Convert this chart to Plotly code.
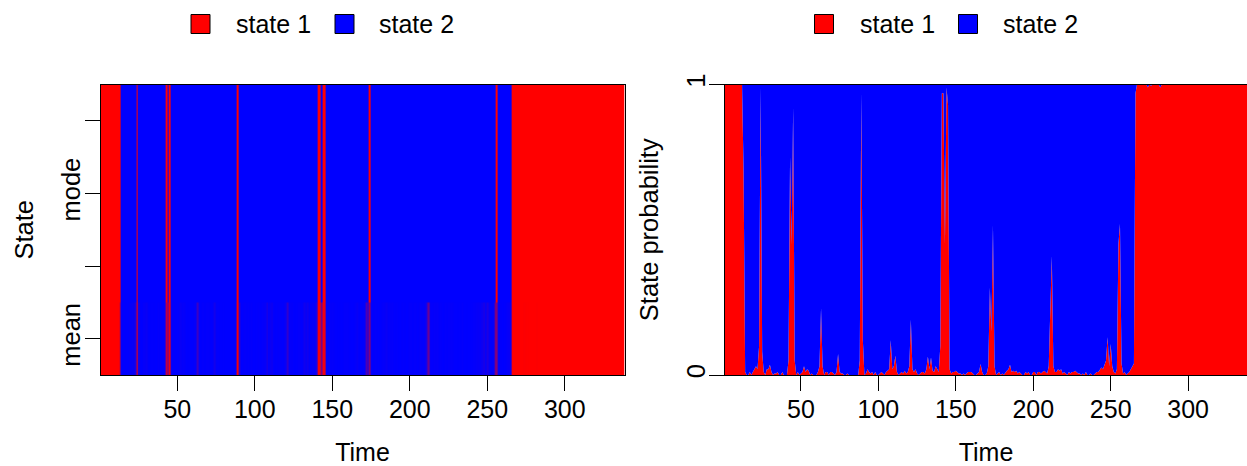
import plotly.graph_objects as go

# ---------------- data ----------------
time = list(range(1, 339))

state1_prob = [
    1, 1, 1, 1, 1, 1, 1, 1, 1, 1,
    1, 1, 0.7, 0.01, 0, 0, 0.01, 0, 0.01, 0.02,
    0.03, 0.02, 0.1, 0.99, 0.08, 0.01, 0, 0.02, 0.02, 0.035,
    0.01, 0, 0.005, 0.005, 0.01, 0, 0, 0.01, 0, 0,
    0, 0.05, 0.75, 0.45, 0.92, 0.05, 0, 0.01, 0, 0.005,
    0.01, 0.03, 0.01, 0.02, 0.015, 0, 0.005, 0, 0, 0,
    0.01, 0.03, 0.23, 0.03, 0, 0.01, 0.01, 0, 0.01, 0.01,
    0.005, 0, 0.01, 0.072, 0.01, 0.005, 0.005, 0, 0, 0.005,
    0, 0, 0, 0, 0, 0, 0, 0.05, 0.97, 0.12,
    0, 0.005, 0.02, 0.01, 0.005, 0.01, 0, 0.01, 0, 0,
    0.005, 0.01, 0.005, 0, 0.01, 0.015, 0.02, 0.12, 0.02, 0.03,
    0.066, 0.01, 0, 0.005, 0.01, 0.005, 0.015, 0.005, 0.01, 0.03,
    0.19, 0.02, 0.01, 0.02, 0.005, 0, 0.005, 0.01, 0.01, 0.005,
    0.02, 0.064, 0.02, 0.06, 0.015, 0.01, 0.03, 0.02, 0.01, 0.1,
    0.97, 0.97, 0.45, 0.99, 0.93, 0.02, 0.005, 0.01, 0.01, 0.015,
    0.01, 0.005, 0.005, 0, 0.005, 0, 0.005, 0.01, 0.01, 0.01,
    0.005, 0, 0, 0.005, 0.01, 0.038, 0.01, 0, 0, 0.005,
    0.03, 0.3, 0.15, 0.515, 0.03, 0, 0.005, 0.01, 0, 0.005,
    0, 0.01, 0.015, 0.02, 0.035, 0.01, 0.015, 0.01, 0.015, 0.005,
    0.01, 0.005, 0, 0, 0.01, 0.005, 0.01, 0, 0, 0.01,
    0.01, 0, 0.01, 0.01, 0.005, 0.01, 0.015, 0.01, 0.005, 0.03,
    0.2, 0.41, 0.03, 0.01, 0.01, 0.02, 0.015, 0.02, 0.005, 0.01,
    0.005, 0, 0.01, 0.005, 0.01, 0.01, 0.015, 0.01, 0.005, 0.005,
    0, 0.005, 0, 0.01, 0, 0, 0.005, 0, 0, 0.005,
    0.01, 0.01, 0.02, 0.026, 0.02, 0.04, 0.05, 0.13, 0.03, 0.107,
    0.03, 0.01, 0.005, 0.02, 0.45, 0.52, 0.04, 0.005, 0.01, 0,
    0.005, 0.01, 0.02, 0.03, 0.04, 0.97, 1, 1, 1, 1,
    1, 1, 1, 0.99, 1, 0.995, 1, 1, 1, 1,
    1, 0.99, 1, 1, 1, 1, 1, 1, 1, 1,
    1, 1, 1, 1, 1, 1, 1, 1, 1, 1,
    1, 1, 1, 1, 1, 1, 1, 1, 1, 1,
    1, 1, 1, 1, 1, 1, 1, 1, 1, 1,
    1, 1, 1, 1, 1, 1, 1, 1, 1, 1,
    1, 1, 1, 1, 1, 1, 1, 1,
]

state_names = ["state 1", "state 2"]
state_colors = ["#FF0000", "#0000FF"]
row_edges = [0, 1, 4]              # "mean" row and "mode" row of the left panel
left_tick_vals = [0.5, 1.5, 2.5, 3.5]
left_tick_text = ["mean", "", "mode", ""]
time_ticks = [50, 100, 150, 200, 250, 300]
prob_ticks = [0, 1]
prob_tick_text = ["0", "1"]

state2_prob = [round(1 - p, 4) for p in state1_prob]
mode_state1 = [1 if p > 0.5 else 0 for p in state1_prob]

# ---------------- figure ----------------
W, H = 1247, 466
FONT = "Liberation Sans, Arial, Helvetica, sans-serif"
HFS = 25     # horizontal text size
VFS = 25.5   # rotated text size


def px_x(v):
    return v / W


def px_y(v):
    return 1 - v / H


fig = go.Figure()

fig.add_trace(go.Heatmap(
    x=time, y=row_edges, z=[state1_prob, mode_state1],
    zmin=0, zmax=1,
    colorscale=[[0, state_colors[1]], [1, state_colors[0]]],
    showscale=False, hoverinfo="skip",
    xaxis="x", yaxis="y",
))

fig.add_trace(go.Scatter(
    x=time, y=state1_prob, stackgroup="prob", mode="lines",
    line=dict(width=0, color=state_colors[0]), fillcolor=state_colors[0],
    name=state_names[0], showlegend=False, xaxis="x2", yaxis="y2",
))
fig.add_trace(go.Scatter(
    x=time, y=state2_prob, stackgroup="prob", mode="lines",
    line=dict(width=0, color=state_colors[1]), fillcolor=state_colors[1],
    name=state_names[1], showlegend=False, xaxis="x2", yaxis="y2",
))

ydom = [px_y(375), px_y(84.5)]
common = dict(
    showgrid=False, zeroline=False, showline=True, mirror=True,
    linecolor="black", linewidth=1, ticks="outside", ticklen=15,
    tickwidth=1, tickcolor="black", automargin=False,
)

fig.update_layout(
    width=W, height=H,
    margin=dict(l=0, r=0, t=0, b=0),
    paper_bgcolor="white", plot_bgcolor="white",
    font=dict(family=FONT, color="black", size=HFS),
    showlegend=False,
    xaxis=dict(
        domain=[px_x(100.6), px_x(624.5)], range=[0.5, 338.5],
        tickvals=time_ticks, tickfont=dict(size=HFS), anchor="y",
        ticklabelstandoff=-3,
        title=dict(text="Time", font=dict(size=HFS), standoff=21),
        **common,
    ),
    yaxis=dict(
        domain=ydom, range=[0, 4], tickvals=left_tick_vals,
        ticktext=left_tick_text, tickangle=-90, tickfont=dict(size=VFS),
        anchor="x", ticklabelstandoff=-6,
        title=dict(text="State", font=dict(size=VFS), standoff=16),
        **common,
    ),
    xaxis2=dict(
        domain=[px_x(725), 1.0], range=[1, 338],
        tickvals=time_ticks, tickfont=dict(size=HFS), anchor="y2",
        ticklabelstandoff=-3,
        title=dict(text="Time", font=dict(size=HFS), standoff=21),
        **common,
    ),
    yaxis2=dict(
        domain=ydom, range=[0, 1], tickvals=prob_ticks,
        ticktext=prob_tick_text, tickangle=-90, tickfont=dict(size=VFS),
        anchor="x2", ticklabelstandoff=-6,
        title=dict(text="State probability", font=dict(size=VFS), standoff=15),
        **common,
    ),
)

# legends above each panel (swatch + label)
shapes = []
annotations = []
for offset in (0, 623.5):
    sw_x = [191 + offset, 335 + offset]
    tx_x = [234 + offset, 377 + offset]
    for i in range(2):
        shapes.append(dict(
            type="rect", xref="paper", yref="paper",
            x0=px_x(sw_x[i]), x1=px_x(sw_x[i] + 19),
            y0=px_y(33.5), y1=px_y(14.5),
            fillcolor=state_colors[i], line=dict(color="black", width=1),
        ))
        annotations.append(dict(
            text=state_names[i], xref="paper", yref="paper",
            x=px_x(tx_x[i]), y=px_y(24), xanchor="left", yanchor="middle",
            showarrow=False, font=dict(size=HFS, family=FONT, color="black"),
        ))
fig.update_layout(shapes=shapes, annotations=annotations)

fig.write_html(
    "out.html",
    config={"displayModeBar": False},
    post_script="document.body.style.margin='0px';",
)
